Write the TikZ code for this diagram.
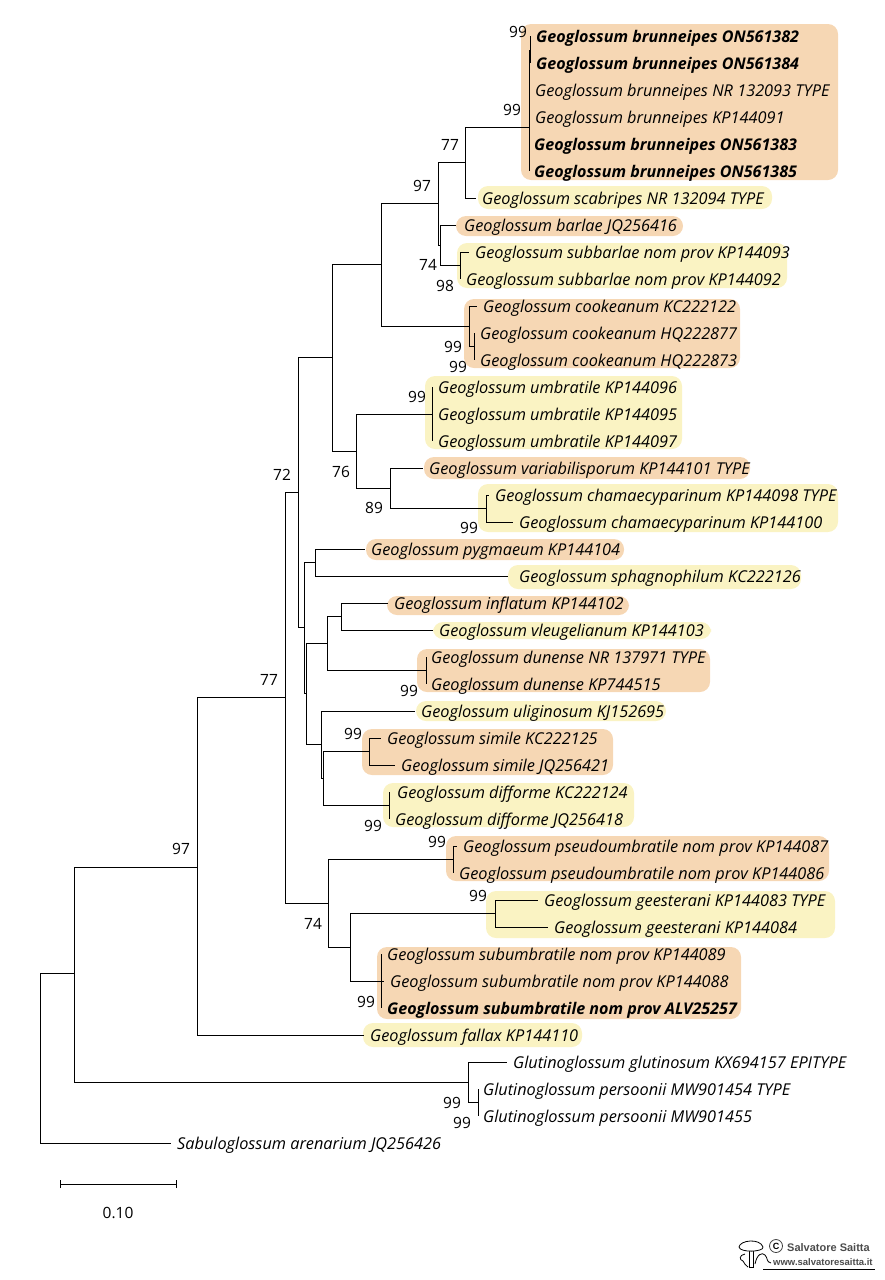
\documentclass[tikz,border=0pt]{standalone}
\usepackage{fontspec}
\setmainfont{Open Sans}
\newfontfamily\logofont{Liberation Sans}
\definecolor{clorange}{RGB}{246,215,180}
\definecolor{clyellow}{RGB}{250,243,195}
\begin{document}
\begin{tikzpicture}[
        x=1pt, y=-1pt,
        tip/.style = {anchor=west, xshift=-6pt, inner xsep=6pt, inner ysep=0pt, text height=15pt, text depth=3pt, font=\fontsize{16.3}{18}\selectfont\itshape},
        boldtip/.style = {tip, font=\fontsize{16.1}{18}\selectfont\itshape\bfseries},
        boot/.style = {inner sep=0pt, font=\fontsize{15.5}{18}\selectfont},
        branch/.style = {draw, black, line width=0.9pt},
        orangebox/.style = {fill=clorange, rounded corners=10pt},
        yellowbox/.style = {fill=clyellow, rounded corners=10pt}
    ]
        \useasboundingbox (0,0) rectangle (884,1280);

        % coloured groups
        \fill[orangebox] (521,24) rectangle (838,180);
        \fill[yellowbox] (478,186) rectangle (772,209);
        \fill[orangebox] (456,216) rectangle (683,236);
        \fill[yellowbox] (457,243) rectangle (787,288);
        \fill[orangebox] (464,299) rectangle (740,368);
        \fill[yellowbox] (425,376) rectangle (682,449);
        \fill[orangebox] (424,457) rectangle (750,479);
        \fill[yellowbox] (478,484) rectangle (838,532);
        \fill[orangebox] (366,539) rectangle (624,560);
        \fill[yellowbox] (508,565) rectangle (801,589);
        \fill[orangebox] (387,596) rectangle (629,615);
        \fill[yellowbox] (433,622) rectangle (711,639);
        \fill[orangebox] (417,649) rectangle (710,692);
        \fill[yellowbox] (416,701) rectangle (666,721);
        \fill[orangebox] (362,729) rectangle (613,775);
        \fill[yellowbox] (383,783) rectangle (634,827);
        \fill[orangebox] (446,836) rectangle (829,881);
        \fill[yellowbox] (486,891) rectangle (835,938);
        \fill[orangebox] (377,947) rectangle (741,1019);
        \fill[yellowbox] (363,1023) rectangle (582,1047);

        % tips
        \node[boldtip] (brA) at (536,36) {Geoglossum brunneipes ON561382};
        \node[boldtip] (brB) at (536,63) {Geoglossum brunneipes ON561384};
        \node[tip] (brC) at (535,90) {Geoglossum brunneipes NR 132093 TYPE};
        \node[tip] (brD) at (535,117) {Geoglossum brunneipes KP144091};
        \node[boldtip] (brE) at (534,144) {Geoglossum brunneipes ON561383};
        \node[boldtip] (brF) at (534,171) {Geoglossum brunneipes ON561385};
        \node[tip] (sca) at (482,198) {Geoglossum scabripes NR 132094 TYPE};
        \node[tip] (bar) at (464,225) {Geoglossum barlae JQ256416};
        \node[tip] (subA) at (475,252) {Geoglossum subbarlae nom prov KP144093};
        \node[tip] (subB) at (466,279) {Geoglossum subbarlae nom prov KP144092};
        \node[tip] (cooA) at (483,306) {Geoglossum cookeanum KC222122};
        \node[tip] (cooB) at (480,333) {Geoglossum cookeanum HQ222877};
        \node[tip] (cooC) at (480,360) {Geoglossum cookeanum HQ222873};
        \node[tip] (umbA) at (438,387) {Geoglossum umbratile KP144096};
        \node[tip] (umbB) at (438,414) {Geoglossum umbratile KP144095};
        \node[tip] (umbC) at (438,441) {Geoglossum umbratile KP144097};
        \node[tip] (var) at (429,468) {Geoglossum variabilisporum KP144101 TYPE};
        \node[tip] (chaA) at (495,495) {Geoglossum chamaecyparinum KP144098 TYPE};
        \node[tip] (chaB) at (519,522) {Geoglossum chamaecyparinum KP144100};
        \node[tip] (pyg) at (371,549) {Geoglossum pygmaeum KP144104};
        \node[tip] (sph) at (519,576) {Geoglossum sphagnophilum KC222126};
        \node[tip] (inf) at (394,603) {Geoglossum inflatum KP144102};
        \node[tip] (vle) at (439,630) {Geoglossum vleugelianum KP144103};
        \node[tip] (dunA) at (431,657) {Geoglossum dunense NR 137971 TYPE};
        \node[tip] (dunB) at (431,684) {Geoglossum dunense KP744515};
        \node[tip] (uli) at (421,711) {Geoglossum uliginosum KJ152695};
        \node[tip] (simA) at (387,738) {Geoglossum simile KC222125};
        \node[tip] (simB) at (401,765) {Geoglossum simile JQ256421};
        \node[tip] (difA) at (397,792) {Geoglossum difforme KC222124};
        \node[tip] (difB) at (395,819) {Geoglossum difforme JQ256418};
        \node[tip] (pseA) at (463,846) {Geoglossum pseudoumbratile nom prov KP144087};
        \node[tip] (pseB) at (459,873) {Geoglossum pseudoumbratile nom prov KP144086};
        \node[tip] (geeA) at (544,900) {Geoglossum geesterani KP144083 TYPE};
        \node[tip] (geeB) at (554,927) {Geoglossum geesterani KP144084};
        \node[tip] (sbuA) at (387,954) {Geoglossum subumbratile nom prov KP144089};
        \node[tip] (sbuB) at (390,981) {Geoglossum subumbratile nom prov KP144088};
        \node[boldtip] (sbuC) at (387,1008) {Geoglossum subumbratile nom prov ALV25257};
        \node[tip] (fal) at (370,1035) {Geoglossum fallax KP144110};
        \node[tip] (gluA) at (513,1062) {Glutinoglossum glutinosum KX694157 EPITYPE};
        \node[tip] (gluB) at (483,1089) {Glutinoglossum persoonii MW901454 TYPE};
        \node[tip] (gluC) at (483,1116) {Glutinoglossum persoonii MW901455};
        \node[tip] (sab) at (177,1143) {Sabuloglossum arenarium JQ256426};

        % inner points of the tree
        \coordinate (root) at (40,973);
        \coordinate (nA) at (74,973);
        \coordinate (nFall) at (197,867);
        \coordinate (nGlut) at (468,1082);
        \coordinate (nGlutB) at (478,1102);
        \coordinate (nMain) at (285,697);
        \coordinate (nUpper) at (298,492);
        \coordinate (nLower) at (328,903);
        \coordinate (nTop) at (332,357);
        \coordinate (nMid) at (304,627);
        \coordinate (nBru) at (381,264);
        \coordinate (nUmb) at (356,451);
        \coordinate (nSca) at (438,203);
        \coordinate (nCoo) at (469,326);
        \coordinate (nCooB) at (474,346);
        \coordinate (nBarl) at (465,162);
        \coordinate (nBarB) at (440,245);
        \coordinate (nSubb) at (460,265);
        \coordinate (nBrun) at (529,127);
        \coordinate (nBrunA) at (530.5,50);
        \coordinate (nBrunB) at (529.5,100);
        \coordinate (nUmbC) at (432,414);
        \coordinate (nVar) at (390,488);
        \coordinate (nCha) at (486,508);
        \coordinate (nPyg) at (315,562);
        \coordinate (nInf) at (306,693);
        \coordinate (nDun) at (327,643);
        \coordinate (nInfl) at (341,616);
        \coordinate (nDunC) at (426,670);
        \coordinate (nUli) at (321,744);
        \coordinate (nSim) at (323,778);
        \coordinate (nSimC) at (369,751);
        \coordinate (nDif) at (389.5,805);
        \coordinate (nPse) at (453,859);
        \coordinate (nGee) at (350,947);
        \coordinate (nGeeC) at (495,913);
        \coordinate (nSub) at (381,981);

        % branches
        \draw[branch] (root) |- (sab.west);
        \draw[branch] (root) -- (nA);
        \draw[branch] (nA) |- (nFall);
        \draw[branch] (nA) |- (nGlut);
        \draw[branch] (nGlut) |- (gluA.west);
        \draw[branch] (nGlut) |- (nGlutB);
        \draw[branch] (nGlutB |- gluB) -- (nGlutB |- gluC);
        \draw[branch] (nFall) |- (nMain);
        \draw[branch] (nFall) |- (fal.west);
        \draw[branch] (nMain) |- (nUpper);
        \draw[branch] (nMain) |- (nLower);
        \draw[branch] (nUpper) |- (nTop);
        \draw[branch] (nUpper) |- (nMid);
        \draw[branch] (nTop) |- (nBru);
        \draw[branch] (nTop) |- (nUmb);
        \draw[branch] (nBru) |- (nSca);
        \draw[branch] (nBru) |- (nCoo);
        \draw[branch] (nSca) |- (nBarl);
        \draw[branch] (nSca) -- (nSca |- nBarB) -- (nBarB);
        \draw[branch] (nBarB |- bar) -- (nBarB |- nSubb);
        \draw[branch, shorten >=2pt] (nBarB |- bar) -- (bar.west);
        \draw[branch] (nBarB |- nSubb) -- (nSubb);
        \draw[branch] (nSubb) |- (subA.west);
        \draw[branch] (nSubb) -- (nSubb |- subB);
        \draw[branch] (nBarl) |- (nBrun);
        \draw[branch] (nBarl) |- (sca.west);
        \draw[branch] (nBrun) -- (nBrun |- brF);
        \draw[branch] (nBrun) -- (nBrun |- nBrunA);
        \draw[branch] (nBrunA |- brA) -- (nBrunA |- brB);
        \draw[branch] (nBrunB |- brC) -- (nBrunB |- brD);
        \draw[branch] (nCoo) |- (cooA.west);
        \draw[branch] (nCoo) |- (nCooB);
        \draw[branch] (nCooB |- cooB) -- (nCooB |- cooC);
        \draw[branch] (nUmb) |- (nUmbC);
        \draw[branch] (nUmb) |- (nVar);
        \draw[branch] (nUmbC |- umbA) -- (nUmbC |- umbC);
        \draw[branch] (nVar) |- (var.west);
        \draw[branch] (nVar) |- (nCha);
        \draw[branch] (nCha) |- (chaA.west);
        \draw[branch] (nCha) |- (chaB.west);
        \draw[branch] (nMid) |- (nPyg);
        \draw[branch] (nMid) |- (nInf);
        \draw[branch] (nPyg) |- (pyg.west);
        \draw[branch, shorten >=5pt] (nPyg) |- (sph.west);
        \draw[branch] (nInf) |- (nDun);
        \draw[branch] (nInf) |- (nUli);
        \draw[branch] (nDun) |- (nInfl);
        \draw[branch] (nDun) |- (nDunC);
        \draw[branch] (nInfl) |- (inf.west);
        \draw[branch] (nInfl) |- (vle.west);
        \draw[branch] (nDunC |- dunA) -- (nDunC |- dunB);
        \draw[branch] (nUli) |- (uli.west);
        \draw[branch] (nUli) |- (nSim);
        \draw[branch] (nSim) |- (nSimC);
        \draw[branch] (nSim) |- (nDif);
        \draw[branch] (nSimC) |- (simA.west);
        \draw[branch] (nSimC) |- (simB.west);
        \draw[branch] (nDif |- difA) -- (nDif |- difB);
        \draw[branch] (nLower) |- (nPse);
        \draw[branch] (nLower) |- (nGee);
        \draw[branch] (nPse) |- (pseA.west);
        \draw[branch] (nPse) -- (nPse |- pseB);
        \draw[branch] (nGee) |- (nGeeC);
        \draw[branch] (nGee) |- (nSub);
        \draw[branch] (nGeeC) |- (geeA.west);
        \draw[branch] (nGeeC) |- (geeB.west);
        \draw[branch] (nSub |- sbuA) -- (nSub |- sbuC);
        \draw[branch] (nSub) -- (sbuB.west);

        % support values
        \node[boot] (bsA) at (518,32) {99};
        \node[boot] (bsB) at (512,110) {99};
        \node[boot] (bsC) at (450,145) {77};
        \node[boot] (bsD) at (422,186) {97};
        \node[boot] (bsE) at (428,265) {74};
        \node[boot] (bsF) at (445,286) {98};
        \node[boot] (bsG) at (453,347) {99};
        \node[boot] (bsH) at (458,367) {99};
        \node[boot] (bsI) at (417,397) {99};
        \node[boot] (bsJ) at (341,472) {76};
        \node[boot] (bsK) at (374,508) {89};
        \node[boot] (bsL) at (469,528) {99};
        \node[boot] (bsM) at (282,475) {72};
        \node[boot] (bsN) at (409,691) {99};
        \node[boot] (bsO) at (353,734) {99};
        \node[boot] (bsP) at (373,826) {99};
        \node[boot] (bsQ) at (437,842) {99};
        \node[boot] (bsR) at (269,680) {77};
        \node[boot] (bsS) at (478,896) {99};
        \node[boot] (bsT) at (313,924) {74};
        \node[boot] (bsU) at (366,1002) {99};
        \node[boot] (bsV) at (181,849) {97};
        \node[boot] (bsW) at (452,1103) {99};
        \node[boot] (bsX) at (462,1123) {99};

        % scale
        \coordinate (scaleL) at (60,1184);
        \coordinate (scaleR) at (176,1184);
        \draw[branch] (scaleL) -- (scaleR);
        \draw[branch] ([yshift=-4pt]scaleL) -- ([yshift=4pt]scaleL);
        \draw[branch] ([yshift=-4pt]scaleR) -- ([yshift=4pt]scaleR);
        \node[boot] (scaleText) at (118,1213) {0.10};

        % logo
        \draw[black, line width=0.8pt, fill=white] (749,1251) -- (749,1267) -- (753,1267) -- (753,1251);
        \draw[black, line width=0.8pt, fill=white] (739,1247) .. controls (740,1240) and (760,1238) .. (763,1247) .. controls (764,1252) and (740,1253) .. (739,1247) -- cycle;
        \draw[black, line width=0.8pt] (745,1254) .. controls (739,1255) and (739,1260) .. (743,1261) .. controls (745,1263) and (745,1266) .. (748,1267);
        \draw[black, line width=0.8pt] (755,1264) .. controls (757,1254) and (762,1252) .. (765,1255) .. controls (768,1258) and (766,1262) .. (771,1263);
        \draw[black, line width=0.9pt] (763,1269) -- (875,1269);
        \node[circle, draw=black!75, line width=0.8pt, minimum size=13pt, inner sep=0pt, font=\logofont\bfseries\fontsize{9}{9}\selectfont] (logoC) at (776,1246) {C};
        \node[anchor=west, inner sep=0pt, text=black!70, font=\logofont\bfseries\fontsize{11}{12}\selectfont] (logoA) at (787,1248) {Salvatore Saitta};
        \node[anchor=west, inner sep=0pt, text=black!70, font=\logofont\bfseries\fontsize{9.5}{12}\selectfont] (logoB) at (773,1262) {www.salvatoresaitta.it};

    \end{tikzpicture}
\end{document}
